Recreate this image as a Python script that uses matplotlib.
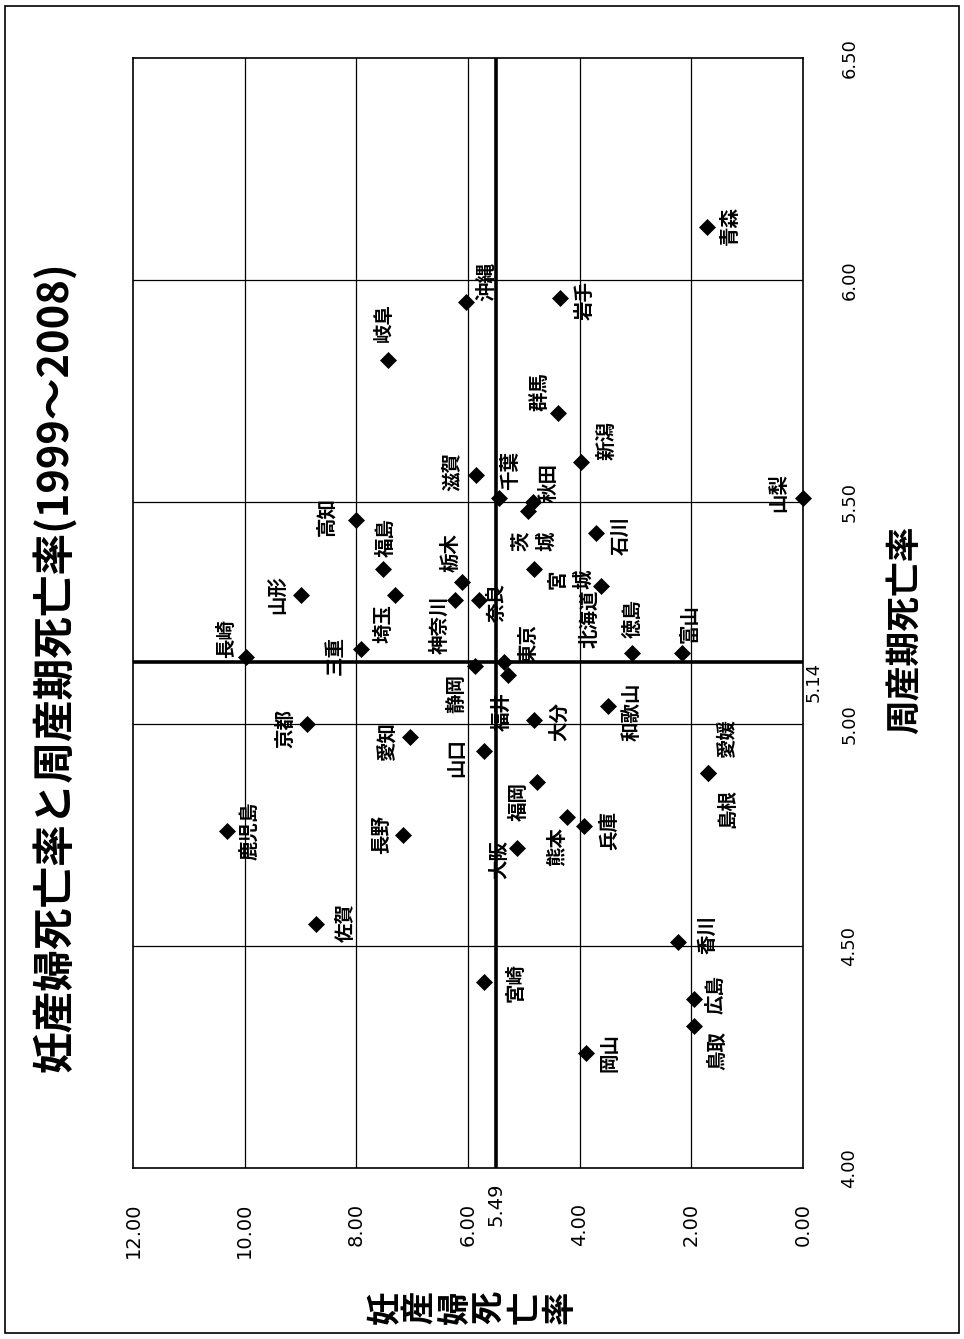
import matplotlib
matplotlib.use('Agg')
import matplotlib.pyplot as plt
from matplotlib.patches import Rectangle
from matplotlib.transforms import blended_transform_factory

plt.rcParams['font.family'] = ['Noto Sans CJK JP', 'DejaVu Sans']

# ---------------- data ----------------
prefectures = ['青森', '岩手', '沖縄', '岐阜', '群馬', '新潟', '滋賀', '千葉', '秋田', '茨城',
               '山梨', '高知', '石川', '福島', '宮城', '栃木', '山形', '埼玉', '北海道', '奈良',
               '神奈川', '長崎', '三重', '徳島', '富山', '静岡', '東京', '福井', '京都', '大分',
               '和歌山', '愛知', '山口', '愛媛', '島根', '福岡', '鹿児島', '長野', '熊本', '兵庫',
               '大阪', '佐賀', '香川', '宮崎', '広島', '鳥取', '岡山']
maternal = [1.72, 4.36, 6.04, 7.44, 4.39, 3.98, 5.85, 5.45, 4.84, 4.93,
            0.00, 8.00, 3.70, 7.52, 4.81, 6.10, 8.99, 7.30, 3.61, 5.81,
            6.24, 9.97, 7.91, 3.07, 2.17, 5.88, 5.35, 5.29, 8.88, 4.81,
            3.50, 7.03, 5.72, 1.70, 1.70, 4.77, 10.31, 7.16, 4.23, 3.93,
            5.13, 8.72, 2.24, 5.72, 1.96, 1.96, 3.89]
perinatal = [6.12, 5.96, 5.95, 5.82, 5.70, 5.59, 5.56, 5.51, 5.50, 5.48,
             5.51, 5.46, 5.43, 5.35, 5.35, 5.32, 5.29, 5.29, 5.31, 5.28,
             5.28, 5.15, 5.17, 5.16, 5.16, 5.13, 5.14, 5.11, 5.00, 5.01,
             5.04, 4.97, 4.94, 4.89, 4.89, 4.87, 4.76, 4.75, 4.79, 4.77,
             4.72, 4.55, 4.51, 4.42, 4.38, 4.32, 4.26]
maternal_ticks = [0, 2, 4, 6, 8, 10, 12]
perinatal_ticks = [4.0, 4.5, 5.0, 5.5, 6.0, 6.5]
maternal_mean = 5.49
perinatal_mean = 5.14

title = '妊産婦死亡率と周産期死亡率(1999～2008)'
maternal_label = '妊産婦死亡率'
perinatal_label = '周産期死亡率'

# label placement (pixel offsets from the marker: right, down)
label_offsets = {
    '青森': (23, -1), '岩手': (26, 3), '沖縄': (21, -21), '岐阜': (-3, -37),
    '群馬': (-18, -22), '新潟': (26, -22), '滋賀': (-24, -4), '千葉': (12, -27),
    '秋田': (16, -19), '茨城': (6, 30), '山梨': (-24, -5), '高知': (-30, -3),
    '石川': (25, 2), '福島': (3, -31), '宮城': (36, 11), '栃木': (-11, -29),
    '山形': (-22, -1), '埼玉': (-11, 28), '北海道': (-12, 32), '奈良': (19, 3),
    '神奈川': (-15, 25), '長崎': (-20, -19), '三重': (-26, 7), '徳島': (2, -34),
    '富山': (8, -29), '静岡': (-18, 27), '東京': (25, -18), '福井': (-6, 36),
    '京都': (-21, 4), '大分': (25, 2), '和歌山': (24, 6), '愛知': (-23, 4),
    '山口': (-27, 7), '愛媛': (19, -34), '島根': (20, 36), '福岡': (-17, 20),
    '鹿児島': (22, 0), '長野': (-22, 0), '熊本': (-9, 29), '兵庫': (26, 4),
    '大阪': (-17, 11), '佐賀': (30, -1), '香川': (30, -7), '宮崎': (32, 1),
    '広島': (23, -5), '鳥取': (24, 25), '岡山': (24, 0),
}
two_line = {'茨城': '茨\n城', '宮城': '宮\n城'}

# ---------------- figure ----------------
W, H = 964, 1339
fig = plt.figure(figsize=(W / 100, H / 100), dpi=100)
fig.patch.set_facecolor('white')
L, R, T, B = 133, 803, 58, 1168
ax = fig.add_axes([L / W, (H - B) / H, (R - L) / W, (B - T) / H])
ax.set_xlim(12, 0)
ax.set_ylim(4, 6.5)

for s in ax.spines.values():
    s.set_linewidth(1.2)
    s.set_color('black')

for t in maternal_ticks[1:-1]:
    ax.axvline(t, color='black', lw=0.9, zorder=1)
for t in perinatal_ticks[1:-1]:
    ax.axhline(t, color='black', lw=0.9, zorder=1)
ax.axvline(maternal_mean, color='black', lw=2.6, zorder=2)
ax.axhline(perinatal_mean, color='black', lw=2.6, zorder=2)

# ticks
ax.set_xticks(maternal_ticks)
ax.set_xticklabels([f'{t:.2f}' for t in maternal_ticks], rotation=90,
                   fontsize=14, family='DejaVu Sans')
ax.tick_params(axis='x', length=0, pad=25)
ax.yaxis.tick_right()
ax.set_yticks(perinatal_ticks)
ax.set_yticklabels([f'{t:.2f}' for t in perinatal_ticks], rotation=90, va='center',
                   fontsize=13, family='DejaVu Sans')
ax.tick_params(axis='y', length=0, pad=27)

# mean value labels
tb = blended_transform_factory(ax.transData, ax.transAxes)
ax.text(maternal_mean, -0.0135, f'{maternal_mean:.2f}', transform=tb, rotation=90,
        ha='center', va='top', fontsize=14, family='DejaVu Sans')
tr = blended_transform_factory(ax.transAxes, ax.transData)
ax.text(1.002, perinatal_mean, f'{perinatal_mean:.2f}', transform=tr, rotation=90,
        ha='left', va='top', fontsize=13, family='DejaVu Sans')

# points
ax.plot(maternal, perinatal, 'D', color='black', ms=8.5, mew=0.5,
        clip_on=False, zorder=5)

for name, m, p in zip(prefectures, maternal, perinatal):
    dx, dy = label_offsets[name]
    ax.annotate(two_line.get(name, name), (m, p), xytext=(dx, -dy),
                textcoords='offset pixels', rotation=90, ha='center', va='center',
                fontsize=14, fontweight='bold', linespacing=1.4, zorder=6,
                annotation_clip=False)

# axis titles
fig.text(905 / W, 1 - 630 / H, perinatal_label, rotation=90, ha='center', va='center',
         fontsize=25, fontweight='bold')
for i, ch in enumerate(maternal_label):
    fig.text((385 + 35 * i) / W, 1 - 1307 / H, ch, rotation=90, ha='center',
             va='center', fontsize=24, fontweight='bold')

# title
fig.text(55 / W, 1 - 667 / H, title, rotation=90, ha='center', va='center',
         fontsize=30, fontweight='bold')

# outer border
fig.add_artist(Rectangle((5 / W, 6 / H), (959 - 5) / W, (1333 - 6) / H,
                         transform=fig.transFigure, fill=False, lw=1.2, ec='black'))

fig.savefig('out.png', dpi=100)
